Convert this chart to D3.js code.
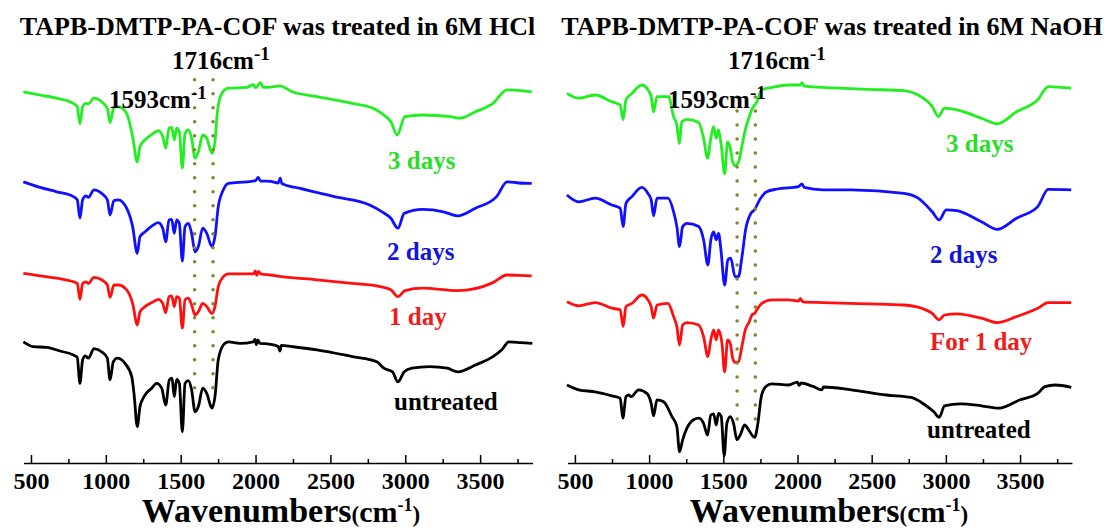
<!DOCTYPE html>
<html><head><meta charset="utf-8">
<script src="https://cdn.jsdelivr.net/npm/d3@7"></script>
<style>
body{margin:0;background:#fff}
svg{display:block;font-family:"Liberation Serif","Times New Roman",serif;font-weight:bold}
</style></head><body><svg id="c" width="1104" height="528"></svg>
<script>
// ---------- DATA ----------
const majorTicks = [500, 1000, 1500, 2000, 2500, 3000, 3500];
const minorTicks = [750, 1250, 1750, 2250, 2750, 3250, 3750];
const markerWavenumbers = [1593, 1716];
const markerLabels = ["1593cm", "1716cm"];

const titleHCl = "TAPB-DMTP-PA-COF was treated in 6M HCl";
const titleNaOH = "TAPB-DMTP-PA-COF was treated in 6M NaOH";
const namesHCl = ["3 days", "2 days", "1 day", "untreated"];
const namesNaOH = ["3 days", "2 days", "For 1 day", "untreated"];

// [wavenumber (cm-1), transmittance (a.u., stacked)]
const hcl3Days = [[449,92.8],[560,92],[672,91.2],[783,89.9],[809,89.1],[827,84.8],[845,89.1],[867,89.9],[883,89.8],[921,91.2],[972,90.3],[1010,88.7],[1028,85.1],[1054,88.9],[1083,89.1],[1139,87.4],[1179,81.6],[1210,75.3],[1228,79.1],[1262,80.8],[1317,82.4],[1350,83.1],[1380,81.6],[1400,78.7],[1422,83.7],[1440,83.9],[1457,80.8],[1473,83.7],[1491,82.8],[1511,73.7],[1529,82.4],[1551,83.3],[1573,81.2],[1596,76.2],[1618,77.8],[1647,82],[1674,81.2],[1709,77.4],[1729,80.3],[1744,87.4],[1774,92.4],[1818,93.7],[1941,93.9],[1985,94.6],[2000,93.8],[2034,95.1],[2050,93.9],[2080,93.9],[2163,94.3],[2245,92.8],[2410,91.6],[2645,89.9],[2786,88.7],[2857,87],[2904,85.3],[2946,82],[2998,86.6],[3115,87],[3303,86.6],[3362,86.2],[3469,87.8],[3586,89.9],[3680,93.3],[3773,93.1],[3845,92.8]];
const hcl2Days = [[449,70.3],[560,68.9],[672,67.8],[783,66.6],[809,65.8],[827,61.2],[845,65.8],[867,66.8],[883,66.4],[921,68.3],[972,67.4],[1010,65.8],[1028,62],[1054,65.6],[1083,65.8],[1139,63.7],[1179,59.1],[1210,52.4],[1228,56.6],[1262,57.8],[1317,59.5],[1350,60.1],[1380,58.7],[1400,55.3],[1422,60.8],[1440,60.9],[1457,57.4],[1473,60.8],[1491,59.9],[1511,50.5],[1529,59.1],[1551,59.9],[1573,57.4],[1596,52.8],[1618,54.1],[1647,58.7],[1674,57.4],[1709,54.1],[1729,56.6],[1751,64.1],[1785,68.3],[1818,69.9],[1941,70.3],[2000,70.6],[2018,71.4],[2034,70.5],[2100,70.4],[2151,70.0],[2165,71.2],[2175,69.9],[2292,68.7],[2527,66.6],[2762,64.5],[2845,62.8],[2904,61.2],[2951,58.7],[2993,62.4],[3115,63.4],[3256,62.8],[3350,61.8],[3469,63.7],[3610,66.6],[3680,70.3],[3760,70.0],[3845,69.9]];
const hcl1Day = [[449,47.4],[560,46.8],[672,46.2],[783,45.3],[809,44.9],[827,40.9],[845,44.9],[867,45.3],[883,44.9],[921,46.4],[972,45.8],[1010,44.5],[1028,41.4],[1054,44.5],[1083,44.5],[1139,43.3],[1179,39.9],[1210,34.5],[1228,37.8],[1262,39.1],[1317,40.3],[1350,40.9],[1380,39.9],[1400,37.6],[1422,41.6],[1440,41.8],[1457,39.1],[1473,41.6],[1491,41.2],[1511,33.7],[1529,40.8],[1551,41.2],[1573,39.5],[1596,37],[1618,37.8],[1647,39.9],[1674,39.1],[1709,37.4],[1729,39.1],[1751,44.1],[1785,46.6],[1818,47.3],[1941,47.3],[1987,47.3],[1998,48.0],[2008,46.9],[2020,47.9],[2034,47.3],[2100,47.0],[2175,46.6],[2410,45.8],[2645,44.9],[2832,44.1],[2904,43.3],[2951,41.6],[2998,43.1],[3115,43.7],[3350,43.1],[3586,45.1],[3680,47],[3760,46.9],[3845,46.8]];
const hclUntreated = [[449,30.3],[515,29.1],[605,28.9],[694,28],[783,27],[809,26.4],[827,19.9],[845,25.8],[863,26.8],[883,26.2],[921,28.6],[972,27.8],[1010,26.2],[1028,20.8],[1050,25.3],[1077,26.2],[1128,24.9],[1173,21.6],[1188,17.4],[1210,9.1],[1228,14.1],[1255,16.6],[1306,18.7],[1340,19.9],[1373,18.7],[1400,14.5],[1424,20.8],[1442,21.2],[1457,16.6],[1473,20.9],[1491,19.9],[1511,7.8],[1529,19.9],[1551,20.6],[1573,18.3],[1596,12.8],[1618,14.1],[1647,18.7],[1674,17.4],[1709,13.7],[1729,16.6],[1751,25.8],[1785,29.5],[1818,30.3],[1896,29.9],[1985,30.3],[1996,30.9],[2005,29.6],[2015,30.8],[2030,29.9],[2080,29.8],[2150,29.2],[2163,28.0],[2172,29.4],[2244,29.1],[2410,28.3],[2646,26.6],[2810,25.3],[2857,23.7],[2915,22.8],[2951,20.3],[2993,22.8],[3045,23.7],[3163,24.1],[3280,23.7],[3350,22.8],[3469,24.5],[3586,26.6],[3645,28.3],[3692,30.3],[3773,30.1],[3849,29.9]];

const naoh3Days = [[446,92.4],[525,91.2],[637,92],[749,90.3],[805,89.5],[825,85.8],[844,90.8],[884,92.4],[951,94.5],[992,93.3],[1014,91.6],[1030,87.8],[1053,91.6],[1131,91.6],[1165,86.6],[1187,84.5],[1203,79.9],[1221,85.3],[1255,85.9],[1334,85.1],[1367,81.2],[1394,76.2],[1416,81.2],[1435,84.1],[1452,81.2],[1468,83.3],[1486,79.5],[1509,72.3],[1529,80.3],[1547,78.7],[1563,75.3],[1580,74.3],[1603,75.3],[1625,79.1],[1648,83.3],[1675,86.6],[1693,88.4],[1726,90.3],[1760,93.3],[1827,93.9],[1940,94.5],[2018,94.5],[2030,95.1],[2045,94.2],[2171,93.9],[2480,93.4],[2718,93.1],[2813,92],[2908,89.1],[2950,86.6],[2991,88.7],[3074,88.3],[3240,86.2],[3346,84.8],[3476,87.8],[3619,90.8],[3690,94.1],[3845,93.7]];
const naoh2Days = [[446,67],[525,65.3],[637,66.2],[749,64.5],[805,63.7],[825,59.1],[844,64.9],[884,66.6],[951,68.9],[992,67.4],[1014,65.8],[1030,61.8],[1053,66.2],[1127,66.2],[1165,62.8],[1187,59.1],[1205,54.1],[1226,59.1],[1255,59.9],[1334,59.1],[1367,55.8],[1396,49.5],[1416,55.8],[1435,57.8],[1452,55.8],[1468,57.4],[1484,53.3],[1509,44.5],[1531,50.8],[1550,51.2],[1579,46.6],[1602,46.6],[1626,51.6],[1650,58.3],[1686,62.4],[1710,63.3],[1745,65.8],[1792,67.8],[1864,68.5],[2006,69.1],[2030,69.8],[2045,68.9],[2171,68.3],[2362,68.3],[2718,67.4],[2813,66.2],[2908,62.8],[2955,60.8],[3003,63.3],[3074,63.1],[3240,60.3],[3346,58.4],[3476,61.2],[3619,64.1],[3690,68.4],[3845,68.3]];
const naoh1Day = [[446,40.3],[525,39.3],[637,40.1],[749,38.7],[805,38.3],[825,34.1],[844,39.1],[884,39.9],[951,42],[992,40.8],[1014,39.1],[1030,36.2],[1053,39.5],[1127,39.9],[1165,36.6],[1187,34.1],[1205,29.5],[1226,34.5],[1255,35.1],[1334,34.5],[1367,31.6],[1396,26.6],[1416,30.8],[1435,33.3],[1452,30.8],[1468,33.3],[1491,29.9],[1509,22.8],[1529,30.8],[1547,29.9],[1563,26.2],[1580,25.1],[1603,25.3],[1625,29.1],[1648,33.3],[1675,35.3],[1693,37],[1711,37.4],[1726,38.3],[1760,39.9],[1827,40.8],[1940,40.8],[2006,40.5],[2020,41.1],[2035,40.3],[2171,40.1],[2480,39.8],[2718,39.5],[2836,38.7],[2908,37.4],[2955,35.8],[2991,37],[3073,37.3],[3240,36.2],[3346,35.1],[3476,36.6],[3619,38.7],[3690,40.1],[3845,40.1]];
const naohUntreated = [[446,19.5],[525,18.3],[637,17.8],[749,16.8],[805,16.2],[823,11.2],[844,16.6],[862,17],[879,16.6],[929,18.3],[985,17.4],[1014,14.9],[1030,11.8],[1053,15.8],[1098,15.3],[1154,11.6],[1187,9.1],[1205,2.8],[1226,5.8],[1255,8.7],[1300,10.8],[1334,11.2],[1367,9.9],[1394,7],[1416,12],[1435,12.3],[1452,9.5],[1468,12.4],[1486,11.6],[1506,1.8],[1524,9.9],[1547,11.6],[1569,9.9],[1592,5.8],[1614,7],[1644,9.5],[1670,8.3],[1711,6.4],[1733,9.9],[1756,16.6],[1787,19.1],[1827,19.8],[1940,19.5],[2000,20.2],[2010,19.4],[2025,20.0],[2100,19.2],[2165,18.3],[2175,19.0],[2362,18.3],[2599,17],[2766,16.4],[2860,14.5],[2919,12.8],[2955,11.4],[2991,14.3],[3098,14.8],[3240,14.3],[3358,13.7],[3500,15.8],[3619,17.4],[3667,19.1],[3738,19.5],[3845,18.9]];

// marker line extents (transmittance units)
const markerSpanHCl = [18.3, 95.8];
const markerSpanNaOH = [9.8, 91.5];

// ---------- DRAWING ----------
const svg = d3.select("#c");
const FONT = '"Liberation Serif","Times New Roman",serif';
const lineColors = ["#22ee22", "#1010ff", "#ff1010", "#000000"];
const textColors = ["#2add2a", "#1414d8", "#ee1c1c", "#000000"];
const xDomain = [450, 3850];
const y = d3.scaleLinear().domain([0, 100]).range([463, 63]);

function drawPanel(cfg) {
  const x = d3.scaleLinear().domain(xDomain).range(cfg.range);
  const g = svg.append("g");
  const line = d3.line().x(d => x(d[0])).y(d => y(d[1])).curve(d3.curveMonotoneX);

  cfg.series.forEach((s, i) => {
    g.append("path").attr("d", line(s)).attr("fill", "none")
      .attr("stroke", lineColors[i]).attr("stroke-width", 2.8)
      .attr("stroke-linejoin", "round");
  });

  // dotted marker lines
  markerWavenumbers.forEach(w => {
    g.append("line")
      .attr("x1", x(w)).attr("x2", x(w))
      .attr("y1", y(cfg.span[1])).attr("y2", y(cfg.span[0]))
      .attr("stroke", "#85852c").attr("stroke-width", 3.6)
      .attr("stroke-linecap", "round").attr("stroke-dasharray", "0,14");
  });

  // axis
  const ax = g.append("g").attr("transform", `translate(0,${y(0)})`)
    .call(d3.axisBottom(x).tickValues(majorTicks).tickSize(-8).tickSizeOuter(0)
      .tickPadding(9).tickFormat(d3.format("d")));
  ax.select(".domain").attr("stroke-width", 1.6);
  ax.selectAll(".tick line").attr("stroke-width", 1.5);
  ax.selectAll("text").attr("font-size", 24).attr("font-family", FONT)
    .attr("font-weight", "bold").attr("fill", "#000");
  const mi = g.append("g").attr("transform", `translate(0,${y(0)})`)
    .call(d3.axisBottom(x).tickValues(minorTicks).tickSize(-4).tickSizeOuter(0).tickFormat(""));
  mi.select(".domain").remove();
  mi.selectAll(".tick line").attr("stroke-width", 1.5);

  // title
  g.append("text").attr("x", cfg.titleX).attr("y", 35).attr("text-anchor", "middle")
    .attr("font-size", 26).attr("font-family", FONT).attr("font-weight", "bold")
    .text(cfg.title);

  // x axis title
  const xt = g.append("text").attr("x", cfg.xTitleX).attr("y", 522).attr("text-anchor", "middle")
    .attr("font-family", FONT).attr("font-weight", "bold");
  xt.append("tspan").attr("font-size", 34).text("Wavenumbers");
  xt.append("tspan").attr("font-size", 23).text("(");
  xt.append("tspan").attr("font-size", 30).text("cm");
  xt.append("tspan").attr("font-size", 18).attr("dy", -11).text("-1");
  xt.append("tspan").attr("font-size", 23).attr("dy", 11).text(")");

  // marker annotations
  markerLabels.forEach((lab, i) => {
    const t = g.append("text").attr("x", cfg.markerPos[i][0]).attr("y", cfg.markerPos[i][1])
      .attr("font-family", FONT).attr("font-weight", "bold").attr("font-size", 25);
    t.append("tspan").text(lab);
    t.append("tspan").attr("font-size", 19).attr("dy", -9).text("-1");
  });

  // series labels
  cfg.names.forEach((n, i) => {
    g.append("text").attr("x", cfg.labelPos[i][0]).attr("y", cfg.labelPos[i][1])
      .attr("font-family", FONT).attr("font-weight", "bold").attr("font-size", 25)
      .attr("fill", textColors[i]).text(n);
  });
}

drawPanel({
  range: [23.5, 532.5],
  series: [hcl3Days, hcl2Days, hcl1Day, hclUntreated],
  names: namesHCl,
  span: markerSpanHCl,
  title: titleHCl, titleX: 277.5, xTitleX: 281,
  markerPos: [[109, 108], [172, 69]],
  labelPos: [[388, 169], [387, 260], [389, 325], [394, 410]]
});
drawPanel({
  range: [567.5, 1072],
  series: [naoh3Days, naoh2Days, naoh1Day, naohUntreated],
  names: namesNaOH,
  span: markerSpanNaOH,
  title: titleNaOH, titleX: 832, xTitleX: 829,
  markerPos: [[668, 108], [728, 69]],
  labelPos: [[946, 152], [930, 263], [930, 350], [927, 438]]
});
</script></body></html>
